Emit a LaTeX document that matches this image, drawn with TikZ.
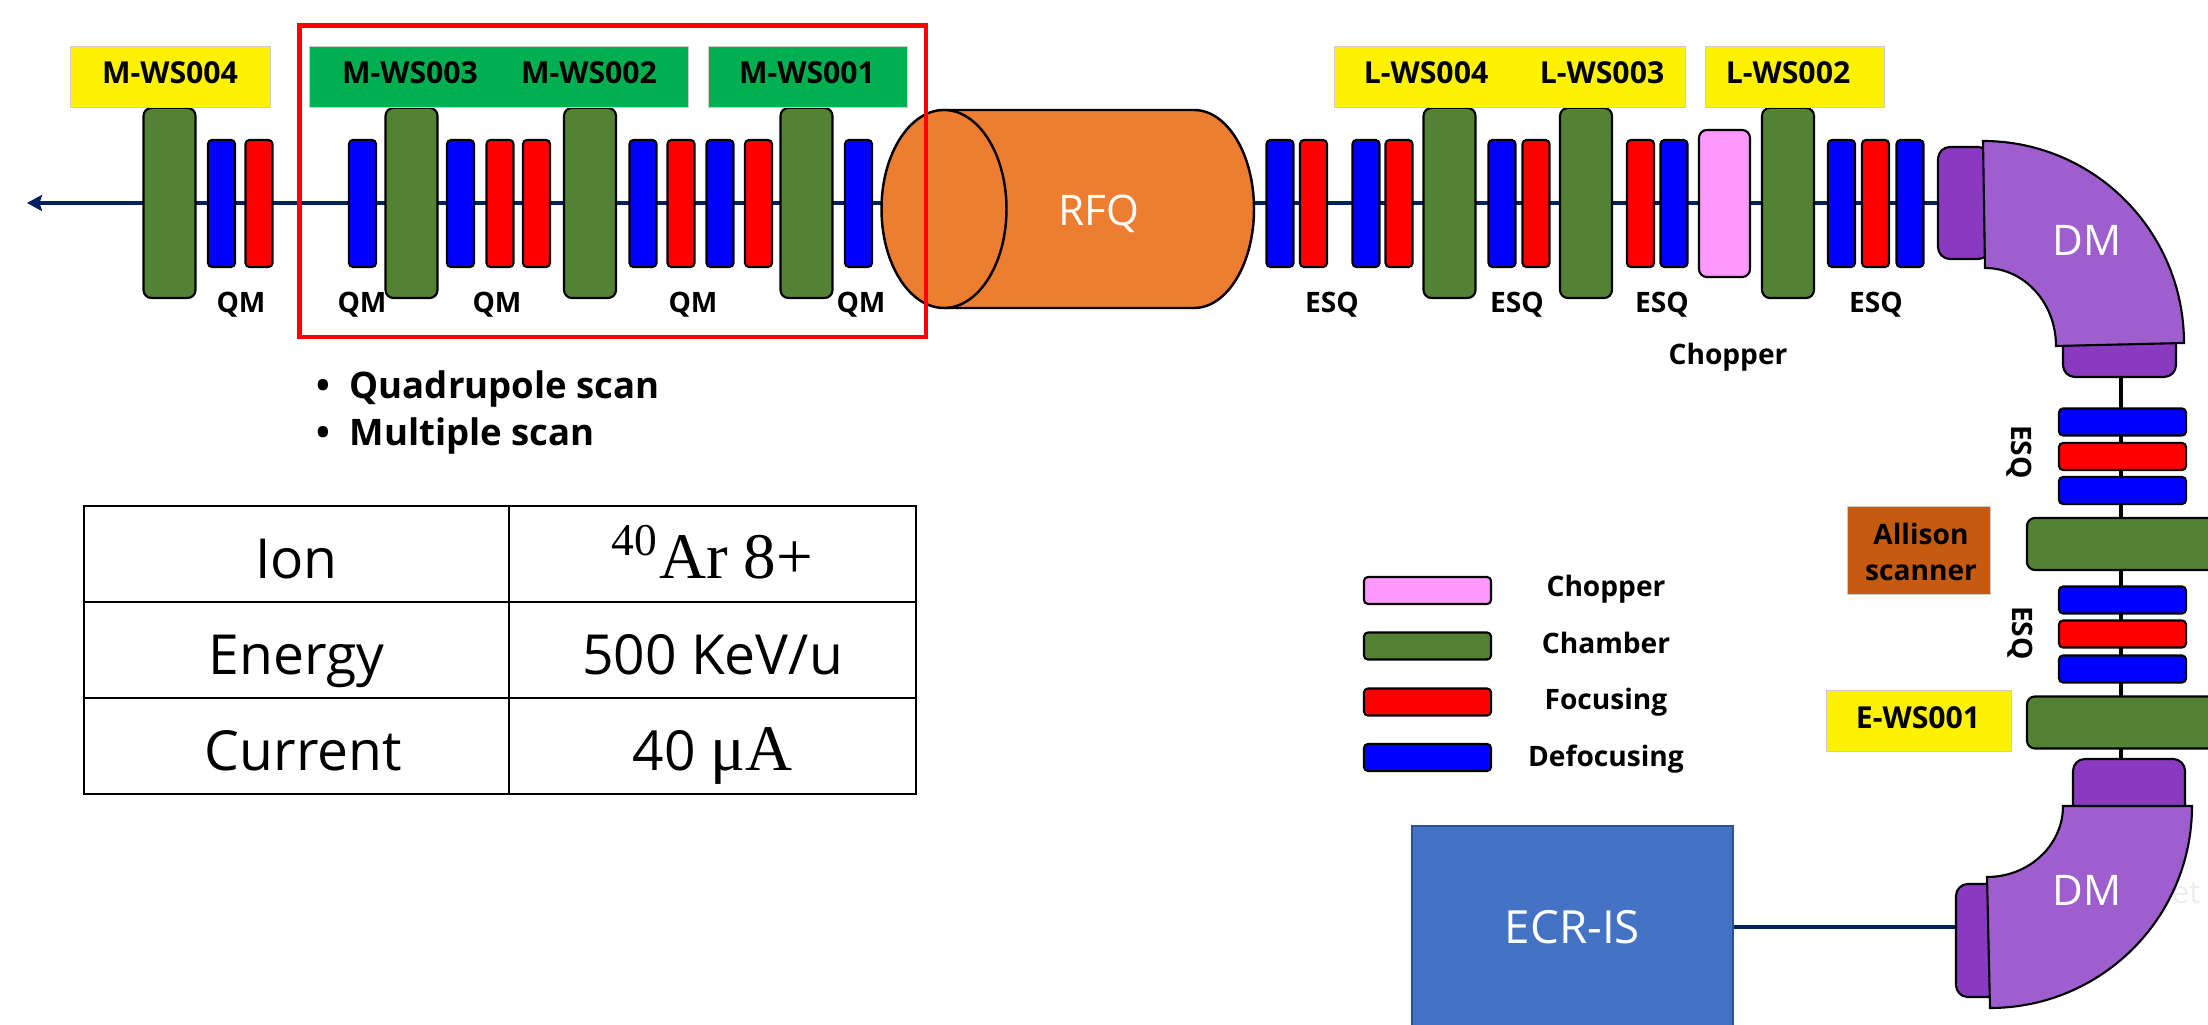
\documentclass[tikz,border=0pt]{standalone}
\usepackage{fontspec}
\setmainfont{Open Sans}
\newfontfamily\serifpart{Liberation Serif}
\usetikzlibrary{arrows.meta,calc}
\definecolor{chambcol}{HTML}{548235}
\definecolor{chopcol}{HTML}{FF99FF}
\definecolor{rfqcol}{HTML}{ED7D31}
\definecolor{dmcol}{HTML}{9E5ECE}
\definecolor{dmdark}{HTML}{8A3AC0}
\definecolor{ecrcol}{HTML}{4472C4}
\definecolor{ecrline}{HTML}{2F528F}
\definecolor{wsgreen}{HTML}{00B050}
\definecolor{allicol}{HTML}{C55A11}
\definecolor{beamcol}{HTML}{002060}
\tikzset{
    part/.style={draw=black,line width=0.6pt,rounded corners=0.04cm,inner sep=0pt},
    defoc/.style={part,fill=blue,minimum width=0.27cm,minimum height=1.27cm},
    foc/.style={part,fill=red,minimum width=0.27cm,minimum height=1.27cm},
    chamb/.style={part,fill=chambcol,rounded corners=0.08cm,minimum width=0.52cm,minimum height=1.90cm},
    defocwide/.style={part,fill=blue,minimum width=1.27cm,minimum height=0.27cm},
    focwide/.style={part,fill=red,minimum width=1.27cm,minimum height=0.27cm},
    chambwide/.style={part,fill=chambcol,rounded corners=0.08cm,minimum width=1.90cm,minimum height=0.52cm},
    chopwide/.style={part,fill=chopcol,minimum width=1.27cm,minimum height=0.27cm},
    flange/.style={draw=black,line width=0.6pt,fill=dmdark,rounded corners=0.12cm,inner sep=0pt},
    magnet/.style={draw=black,line width=0.6pt,fill=dmcol},
    beamline/.style={draw=beamcol,line width=1.25pt},
    tag/.style={draw=black!20,line width=0.25pt,inner sep=0pt,minimum height=0.61cm},
    lbl/.style={font=\fontsize{8}{10}\selectfont\bfseries,inner sep=0pt,text height=0.2cm,text depth=0pt},
    taglbl/.style={lbl,font=\fontsize{8.6}{10}\selectfont\bfseries},
    scanlbl/.style={lbl,font=\fontsize{10.4}{12}\selectfont\bfseries,text height=0.25cm},
    bigwhite/.style={font=\fontsize{12}{14}\selectfont,text=white,inner sep=0pt,text height=0.3cm,text depth=0pt},
    cell/.style={draw=black,line width=0.7pt,inner sep=0pt,minimum height=0.96cm,text height=0.48cm,text depth=0cm,font=\fontsize{15.7}{18}\selectfont},
}
\newcommand{\mathpart}{\serifpart\fontsize{18.5}{20}\selectfont}
\begin{document}
\begin{tikzpicture}[x=0.01cm,y=-0.01cm]
    \useasboundingbox (0,0) rectangle (2208,1025);
    % source and ends of the beam
    \node[draw=ecrline,line width=0.6pt,fill=ecrcol,inner sep=0pt,minimum width=3.21cm,minimum height=2.02cm,font=\fontsize{13}{15}\selectfont,text=white] (ecr) at (1572.5,927) {ECR-IS};
    \node[flange,minimum width=0.44cm,minimum height=1.13cm] (srcflange) at (1978,940.5) {};
    \node[flange,minimum width=1.12cm,minimum height=0.61cm] (srcout) at (2129,789.5) {};
    \node[flange,minimum width=0.52cm,minimum height=1.12cm] (dmin) at (1964,203) {};
    \node[flange,minimum width=1.13cm,minimum height=0.47cm] (dmout) at (2119.5,353.5) {};
    \coordinate (beamend) at (27,203);
    \coordinate (vtop) at (2121,377);
    \coordinate (vbot) at (2121,759);
    \draw[beamline,-{Stealth[length=0.15cm,width=0.16cm,inset=0.025cm]}] (dmin.west) -- (beamend);
    \draw[beamline] (ecr.east) -- (ecr.east -| srcflange.west);
    \draw[draw=black,line width=1.25pt] (vtop) -- (vbot);
    % line to the left of the RFQ
    \node[chamb] (cha) at (169.5,203) {};
    \node[defoc] (qa) at (221.5,203.5) {};
    \node[foc] (qb) at (259,203.5) {};
    \node[defoc] (qc) at (362.5,203.5) {};
    \node[chamb] (chb) at (411.5,203) {};
    \node[defoc] (qd) at (460.5,203.5) {};
    \node[foc] (qe) at (500,203.5) {};
    \node[foc] (qf) at (536.5,203.5) {};
    \node[chamb] (chc) at (590,203) {};
    \node[defoc] (qg) at (643,203.5) {};
    \node[foc] (qh) at (681,203.5) {};
    \node[defoc] (qi) at (720,203.5) {};
    \node[foc] (qj) at (758.5,203.5) {};
    \node[chamb] (chd) at (806.5,203) {};
    \node[defoc] (qk) at (858.5,203.5) {};
    % RFQ
    \draw[draw=black,line width=0.7pt,fill=rfqcol] (944,110) -- (1194,110) arc[start angle=-90,end angle=90,x radius=60,y radius=99] -- (944,308) -- cycle;
    \draw[draw=black,line width=0.7pt,fill=rfqcol] (944,209) ellipse[x radius=62.5,y radius=99];
    \node[bigwhite] (rfq) at (1099,210) {RFQ};
    % line to the right of the RFQ
    \node[defoc] (ea) at (1280,203.5) {};
    \node[foc] (eb) at (1313.5,203.5) {};
    \node[defoc] (ec) at (1366,203.5) {};
    \node[foc] (ed) at (1399,203.5) {};
    \node[chamb] (che) at (1449.5,203) {};
    \node[defoc] (ee) at (1502,203.5) {};
    \node[foc] (ef) at (1536,203.5) {};
    \node[chamb] (chf) at (1586,203) {};
    \node[foc] (eg) at (1640.5,203.5) {};
    \node[defoc] (eh) at (1674,203.5) {};
    \node[part,fill=chopcol,rounded corners=0.08cm,minimum width=0.51cm,minimum height=1.47cm] (chop) at (1724.5,203.5) {};
    \node[chamb] (chg) at (1788,203) {};
    \node[defoc] (ei) at (1841.5,203.5) {};
    \node[foc] (ej) at (1875.5,203.5) {};
    \node[defoc] (ek) at (1910,203.5) {};
    % bending magnets
    \node[bigwhite,text=black!7,font=\fontsize{9}{11}\selectfont] (ghost) at (2186,888) {et};
    \draw[magnet] (1983,141) arc[start angle=-90,end angle=0,x radius=201,y radius=202] -- (2056,346) arc[start angle=0,end angle=-90,x radius=71,y radius=78] -- cycle;
    \draw[magnet] (2063,806) -- (2192,806) arc[start angle=0,end angle=90,radius=202] -- (1987,877) arc[start angle=90,end angle=0,x radius=76,y radius=71] -- cycle;
    \node[bigwhite] (dmtop) at (2087,241) {DM};
    \node[bigwhite] (dmbot) at (2087,890) {DM};
    % vertical part
    \node[defocwide] (va) at (2122.5,422) {};
    \node[focwide] (vb) at (2122.5,456.5) {};
    \node[defocwide] (vc) at (2122.5,490.5) {};
    \node[chambwide] (vch) at (2122,544) {};
    \node[defocwide] (vd) at (2122.5,600) {};
    \node[focwide] (ve) at (2122.5,634) {};
    \node[defocwide] (vf) at (2122.5,669) {};
    \node[chambwide] (vci) at (2122,722.5) {};
    % tags above the line
    \node[tag,fill=yellow,minimum width=2.00cm] (tagmd) at (170,76.5) {};
    \node[tag,fill=wsgreen,minimum width=3.78cm] (tagmc) at (499,76.5) {};
    \node[tag,fill=wsgreen,minimum width=1.99cm] (tagma) at (807.5,76.5) {};
    \node[tag,fill=yellow,minimum width=3.50cm] (tagld) at (1510,76.5) {};
    \node[tag,fill=yellow,minimum width=1.79cm] (taglb) at (1794.5,76.5) {};
    \node[tag,fill=yellow,minimum width=1.85cm] (tagea) at (1918.5,720.5) {};
    \node[tag,fill=allicol,minimum width=1.43cm,minimum height=0.88cm] (tagal) at (1918.5,550) {};
    \node[taglbl] (lmd) at (170,74) {M-WS004};
    \node[taglbl] (lmc) at (410,74) {M-WS003};
    \node[taglbl] (lmb) at (589,74) {M-WS002};
    \node[taglbl] (lma) at (807,74) {M-WS001};
    \node[taglbl] (lld) at (1426,74) {L-WS004};
    \node[taglbl] (llc) at (1602,74) {L-WS003};
    \node[taglbl] (llb) at (1788,74) {L-WS002};
    \node[taglbl] (lea) at (1918,718) {E-WS001};
    \node[lbl,align=center,text height=,text depth=] (lal) at (1921,552) {Allison\\scanner};
    % labels under the line
    \node[lbl] (qma) at (241,303) {QM};
    \node[lbl] (qmb) at (362,303) {QM};
    \node[lbl] (qmc) at (497,303) {QM};
    \node[lbl] (qmd) at (693,303) {QM};
    \node[lbl] (qme) at (861,303) {QM};
    \node[lbl] (esa) at (1332,303) {ESQ};
    \node[lbl] (esb) at (1517,303) {ESQ};
    \node[lbl] (esc) at (1662,303) {ESQ};
    \node[lbl] (esd) at (1876,303) {ESQ};
    \node[lbl,rotate=-90] (ese) at (2021,452) {ESQ};
    \node[lbl,rotate=-90] (esf) at (2022,633) {ESQ};
    \node[lbl] (lchop) at (1728,355) {Chopper};
    % scan region
    \draw[draw=red,line width=1.15pt] (299.5,25.5) rectangle (926,337);
    \node[scanlbl] (bqa) at (323,386) {\textbullet};
    \node[scanlbl,anchor=west] (qscan) at (349,386) {Quadrupole scan};
    \node[scanlbl] (bqb) at (323,433) {\textbullet};
    \node[scanlbl,anchor=west] (mscan) at (349,433) {Multiple scan};
    % table
    \node[cell,minimum width=4.25cm] (tia) at (296.5,554) {Ion};
    \node[cell,minimum width=4.07cm] (tib) at (712.5,554) {{\mathpart\textsuperscript{40}Ar 8+}};
    \node[cell,minimum width=4.25cm] (tea) at (296.5,650) {Energy};
    \node[cell,minimum width=4.07cm] (teb) at (712.5,650) {500 KeV/u};
    \node[cell,minimum width=4.25cm] (tca) at (296.5,746) {\hspace*{0.14cm}Current};
    \node[cell,minimum width=4.07cm] (tcb) at (712.5,746) {40 {\mathpart μA}};
    % legend
    \node[chopwide] (lega) at (1427.5,590.5) {};
    \node[chambwide,minimum width=1.27cm,minimum height=0.27cm,rounded corners=0.04cm] (legb) at (1427.5,646) {};
    \node[focwide] (legc) at (1427.5,702) {};
    \node[defocwide] (legd) at (1427.5,757.5) {};
    \node[lbl] (txa) at (1606,587) {Chopper};
    \node[lbl] (txb) at (1606,643) {Chamber};
    \node[lbl] (txc) at (1606,699) {Focusing};
    \node[lbl] (txd) at (1606,756) {Defocusing};
\end{tikzpicture}
\end{document}
